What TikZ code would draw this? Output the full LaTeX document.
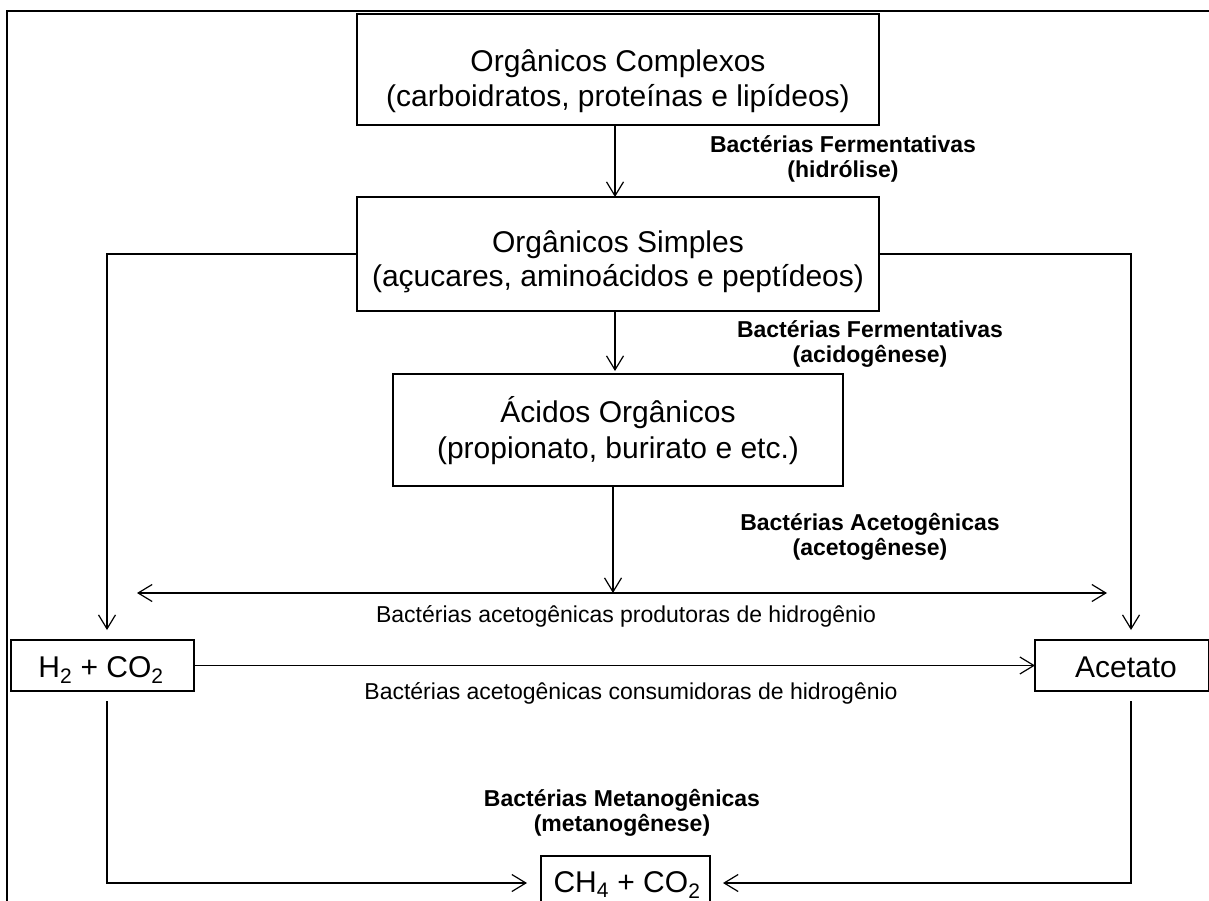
\documentclass[tikz,border=0pt]{standalone}
\usepackage{fontspec}
\setmainfont{Liberation Sans}
\usetikzlibrary{arrows.meta}
\newcommand\bigtxt{\fontsize{30}{35}\selectfont}
\newcommand\lbltxt{\fontsize{23}{27}\selectfont}
\tikzset{
  box/.style={draw, line width=1.4pt, inner sep=0pt, outer sep=0pt},
  arr/.style={line width=1.2pt, -{Straight Barb[length=14pt,width=17pt]}},
  darr/.style={line width=1.2pt, {Straight Barb[length=14pt,width=17pt]}-{Straight Barb[length=14pt,width=17pt]}},
  btxt/.style={anchor=base, inner sep=0pt, font=\bigtxt},
  ltxt/.style={anchor=base, inner sep=0pt, font=\lbltxt},
  bltxt/.style={anchor=base, inner sep=0pt, font=\lbltxt\bfseries},
}
\begin{document}
\begin{tikzpicture}[x=1pt,y=-1pt]
\useasboundingbox (0,0) rectangle (1209,901);
% frame
\draw[line width=2pt] (7,910) -- (7,11) -- (1215,11);
% boxes
\node[box, minimum width=522pt, minimum height=111pt] (b1) at (618,69.5) {};
\node[box, minimum width=522pt, minimum height=114pt] (b2) at (618,254) {};
\node[box, minimum width=450pt, minimum height=112pt] (b3) at (618,430) {};
\node[box, minimum width=183pt, minimum height=51pt] (h2) at (102.5,665.5) {};
\node[box, minimum width=174pt, minimum height=51pt] (ac) at (1122,665.5) {};
\node[box, minimum width=169pt, minimum height=54pt] (ch) at (625.5,883) {};
% box texts
\node[btxt] (t1a) at (618,72) {Orgânicos Complexos};
\node[btxt] (t1b) at (618,107) {(carboidratos, proteínas e lipídeos)};
\node[btxt] (t2a) at (618,252) {Orgânicos Simples};
\node[btxt] (t2b) at (618,287) {(açucares, aminoácidos e peptídeos)};
\node[btxt] (t3a) at (618,422) {Ácidos Orgânicos};
\node[btxt] (t3b) at (618,458) {(propionato, burirato e etc.)};
\node[btxt] (th2) at (101,677) {H\textsubscript{2} + CO\textsubscript{2}};
\node[btxt] (tac) at (1126,677) {Acetato};
\node[btxt] (tch) at (627,892) {CH\textsubscript{4} + CO\textsubscript{2}};
% process labels
\node[bltxt] (l1a) at (843,153) {Bactérias Fermentativas};
\node[bltxt] (l1b) at (843,178) {(hidrólise)};
\node[bltxt] (l2a) at (870,337) {Bactérias Fermentativas};
\node[bltxt] (l2b) at (870,362) {(acidogênese)};
\node[bltxt] (l3a) at (870,530) {Bactérias Acetogênicas};
\node[bltxt] (l3b) at (870,555) {(acetogênese)};
\node[bltxt] (l4a) at (622,806) {Bactérias Metanogênicas};
\node[bltxt] (l4b) at (622,831) {(metanogênese)};
\node[ltxt] (lp) at (626,622) {Bactérias acetogênicas produtoras de hidrogênio};
\node[ltxt] (lc) at (631,699) {Bactérias acetogênicas consumidoras de hidrogênio};
% connectors
\draw[arr] ([xshift=-3pt]b1.south) -- ([xshift=-3pt]b2.north);
\draw[arr, shorten >=3pt] ([xshift=-3pt]b2.south) -- ([xshift=-3pt]b3.north);
\coordinate (pl) at (137,593);
\coordinate (pr) at (1107,593);
\draw[darr] (pl) -- (pr);
\draw[arr] ([xshift=-5pt]b3.south) -- ([xshift=-5pt]b3.south |- pl);
\draw[arr, shorten >=10pt] (b2.west) -| ([xshift=4.5pt]h2.north);
\draw[arr, shorten >=10pt] (b2.east) -| ([xshift=9pt]ac.north);
\draw[arr] (h2.east) -- (ac.west);
\draw[arr, shorten <=10pt, shorten >=14pt] ([xshift=4.5pt]h2.south) |- (ch.west);
\draw[arr, shorten <=10pt, shorten >=13pt] ([xshift=9pt]ac.south) |- (ch.east);
\end{tikzpicture}
\end{document}
